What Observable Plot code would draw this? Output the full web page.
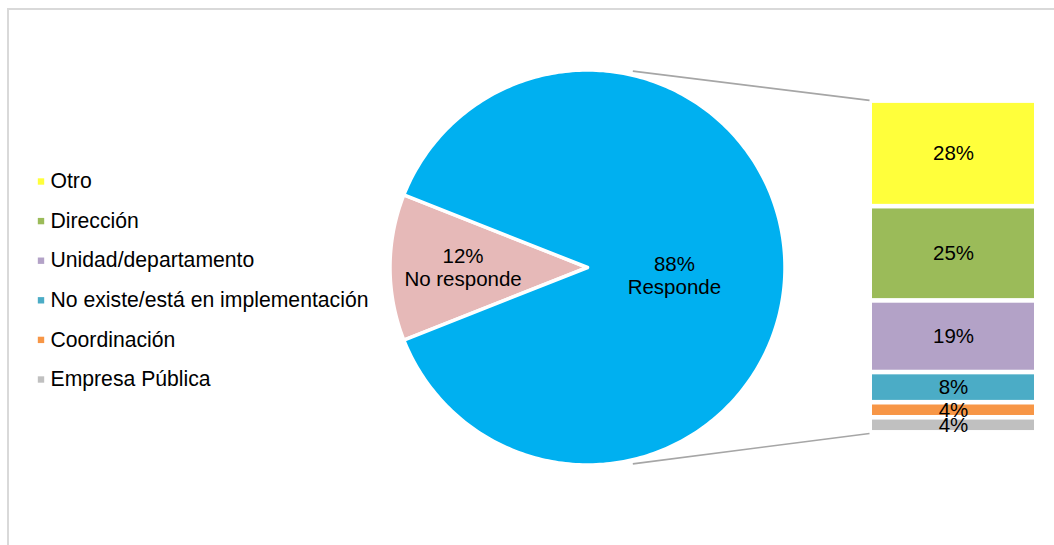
<!DOCTYPE html>
<html>
<head>
<meta charset="utf-8">
<script src="https://cdn.jsdelivr.net/npm/d3@7"></script>
<script src="https://cdn.jsdelivr.net/npm/@observablehq/plot@0.6"></script>
<style>
  body { margin: 0; background: #fff; }
  #frame { position: absolute; left: 7px; top: 8px; width: 1100px; height: 600px;
           border-left: 2px solid #D9D9D9; border-top: 2px solid #D9D9D9; }
  #chart { position: absolute; left: 0; top: 0; }
</style>
</head>
<body>
<div id="frame"></div>
<div id="chart"></div>
<script>
// ---- data ----
const pieLabels = ["No responde", "Responde"];
const pieValues = [12, 88];
const pieColors = ["#E6B9B8", "#00B0F0"];

const barLabels = ["Otro", "Dirección", "Unidad/departamento", "No existe/está en implementación", "Coordinación", "Empresa Pública"];
const barValues = [28, 25, 19, 8, 4, 4];
const barColors = ["#FFFF3B", "#9BBB59", "#B3A2C7", "#4BACC6", "#F79646", "#C0C0C0"];

// ---- layout ----
const W = 1054, H = 545;
const cx = 587, cy = 267, R = 197.5;
const barX1 = 872, barX2 = 1034, barTop = 100.6, pxPer = 3.77, gap = 2.3;
const font = "'Liberation Sans', Arial, sans-serif";
const fs = 20.5, legendFs = 21.2;

// pie slices: "No responde" centred on the left (180°)
const total = d3.sum(pieValues);
let a0 = 180 - pieValues[0] / total * 360 / 2;
const slices = pieValues.map((v, i) => {
  const span = v / total * 360;
  const s = {label: pieLabels[i], value: v, color: pieColors[i], start: a0, end: a0 + span, mid: a0 + span / 2};
  a0 += span;
  return s;
});
const pt = (deg, r) => [cx + r * Math.cos(deg * Math.PI / 180), cy - r * Math.sin(deg * Math.PI / 180)];
const slicePolys = slices.map(s => {
  const n = Math.max(4, Math.ceil((s.end - s.start) / 1));
  const pts = [[cx, cy]];
  for (let k = 0; k <= n; k++) pts.push(pt(s.start + (s.end - s.start) * k / n, R));
  pts.push([cx, cy]);
  return {s, pts};
});
const pieText = slices.map((s, i) => {
  const p = i === 0 ? pt(s.mid, R * 0.63) : pt(0, R * 0.44);
  return {x: p[0], y: p[1] + (i === 0 ? 0 : 8), text: `${s.value}%\n${s.label}`};
});

// bar-of-pie stack
const cum = d3.cumsum(barValues);
const barSegs = barValues.map((v, i) => ({
  label: barLabels[i], value: v, color: barColors[i],
  y1: barTop + (cum[i] - v) * pxPer, y2: barTop + cum[i] * pxPer
}));
const barVisTop = barSegs[0].y1 + gap, barVisBot = barSegs[barSegs.length - 1].y2 - gap;

// connector lines
const tp = pt(77, R + 4), bp = pt(-77, R + 4);
const links = [
  {x1: tp[0], y1: tp[1], x2: barX1 - 3, y2: barVisTop - 3},
  {x1: bp[0], y1: bp[1], x2: barX1 - 3, y2: barVisBot + 3}
];

// legend
const legend = barLabels.map((l, i) => ({label: l, color: barColors[i], y: 181 + i * 39.6}));

const chart = Plot.plot({
  width: W, height: H, margin: 0,
  x: {type: "identity", axis: null},
  y: {type: "identity", axis: null},
  style: {background: "transparent", fontFamily: font},
  marks: [
    ...slicePolys.map(({s, pts}) =>
      Plot.line(pts, {x: d => d[0], y: d => d[1], fill: s.color, stroke: "white", strokeWidth: 3.5, curve: "linear"})),
    Plot.text(pieText, {x: "x", y: "y", text: "text", fontSize: fs, fill: "#000", lineHeight: 1.12, textAnchor: "middle"}),
    Plot.link(links, {x1: "x1", y1: "y1", x2: "x2", y2: "y2", stroke: "#A6A6A6", strokeWidth: 1.6}),
    Plot.rect(barSegs, {x1: barX1, x2: barX2, y1: "y1", y2: "y2", fill: "color", insetTop: gap, insetBottom: gap}),
    Plot.text(barSegs, {x: (barX1 + barX2) / 2, y: d => (d.y1 + d.y2) / 2, text: d => `${d.value}%`, fontSize: fs, fill: "#000"}),
    Plot.dot(legend, {x: 40.5, y: "y", symbol: "square", r: 3.6, fill: "color", stroke: null}),
    Plot.text(legend, {x: 50, y: "y", text: "label", fontSize: legendFs, fill: "#000", textAnchor: "start"})
  ]
});
document.getElementById("chart").appendChild(chart);
</script>
</body>
</html>
